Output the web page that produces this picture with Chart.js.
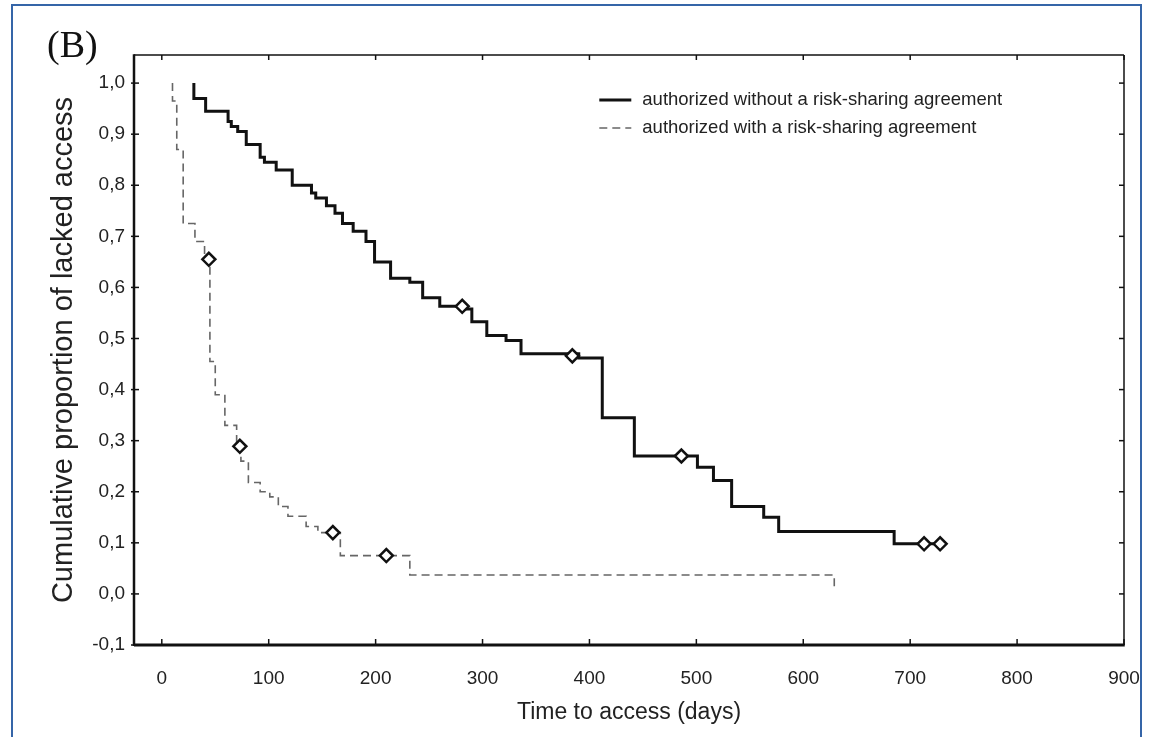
<!DOCTYPE html>
<html>
<head>
<meta charset="utf-8">
<script src="https://cdn.jsdelivr.net/npm/chart.js@4.4.1/dist/chart.umd.min.js"></script>
<style>
    body { margin: 0; background: #fff; }
    #wrap { position: relative; width: 1149px; height: 737px; overflow: hidden; }
    #kmChart { position: absolute; left: 0; top: 0; }
    #border { position: absolute; left: 11px; top: 4px; width: 1131px; height: 780px; border: 2px solid #3565a8; box-sizing: border-box; pointer-events: none; }
</style>
</head>
<body>
<div id="wrap">
    <canvas id="kmChart" width="1149" height="737"></canvas>
    <div id="border"></div>
</div>
<script>
// authorized without a risk-sharing agreement (solid)
const noRsaDays   = [30, 30, 41, 62, 65, 71, 79, 92, 96, 107, 122, 140, 144, 154, 162, 169, 179, 191, 199, 214, 232, 244, 260, 284, 290, 304, 322, 336, 390, 412, 442, 501, 516, 533, 563, 577, 685, 728];
const noRsaLevels = [1.0, 0.97, 0.945, 0.925, 0.915, 0.905, 0.88, 0.855, 0.845, 0.83, 0.80, 0.785, 0.775, 0.76, 0.745, 0.725, 0.71, 0.69, 0.65, 0.618, 0.61, 0.58, 0.563, 0.558, 0.533, 0.506, 0.496, 0.47, 0.462, 0.345, 0.27, 0.248, 0.222, 0.171, 0.15, 0.122, 0.098, 0.098];
const noRsaCensorDays   = [281, 384, 486, 713, 728];
const noRsaCensorLevels = [0.563, 0.466, 0.27, 0.098, 0.098];

// authorized with a risk-sharing agreement (dashed)
const rsaDays   = [10, 10, 14, 20, 31, 40, 45, 50, 59, 70, 74, 81, 92, 101, 109, 118, 135, 146, 167, 232, 629, 629];
const rsaLevels = [1.0, 0.965, 0.87, 0.725, 0.69, 0.655, 0.455, 0.39, 0.33, 0.289, 0.26, 0.218, 0.20, 0.19, 0.171, 0.152, 0.132, 0.12, 0.075, 0.037, 0.037, 0.008];
const rsaCensorDays   = [44, 73, 160, 210];
const rsaCensorLevels = [0.655, 0.289, 0.12, 0.075];

const xTicks = [0, 100, 200, 300, 400, 500, 600, 700, 800, 900];
const yTicks = [-0.1, 0.0, 0.1, 0.2, 0.3, 0.4, 0.5, 0.6, 0.7, 0.8, 0.9, 1.0];

const seriesNames = ["authorized without a risk-sharing agreement", "authorized with a risk-sharing agreement"];

function toPoints(xs, ys) {
    return xs.map((x, i) => ({ x: x, y: ys[i] }));
}

const censorStyle = {
    type: 'scatter',
    showLine: false,
    pointStyle: 'rectRot',
    pointRadius: 6.5,
    pointBackgroundColor: '#fff',
    pointBorderColor: '#111',
    pointBorderWidth: 2.5,
    order: 0
};

// frame with inward ticks on all four sides
const framePlugin = {
    id: 'frame',
    afterDatasetsDraw(chart) {
        const { ctx, chartArea: a, scales: { x, y } } = chart;
        ctx.save();
        ctx.strokeStyle = '#111';
        function seg(x1, y1, x2, y2) { ctx.beginPath(); ctx.moveTo(x1, y1); ctx.lineTo(x2, y2); ctx.stroke(); }
        ctx.lineWidth = 1.5;
        seg(a.left, a.top, a.right, a.top);
        seg(a.right, a.top, a.right, a.bottom);
        ctx.lineWidth = 2.5;
        seg(a.left, a.top - 0.75, a.left, a.bottom + 1);
        ctx.lineWidth = 3;
        seg(a.left, a.bottom, a.right + 0.75, a.bottom);
        ctx.lineWidth = 1.5;
        xTicks.forEach(v => {
            const px = x.getPixelForValue(v);
            seg(px, a.bottom, px, a.bottom - 6);
            seg(px, a.top, px, a.top + 5);
        });
        yTicks.forEach(v => {
            const py = y.getPixelForValue(v);
            seg(a.left - 3, py, a.left + 5, py);
            seg(a.right, py, a.right - 5, py);
        });
        ctx.restore();
    }
};

const legendPlugin = {
    id: 'insideLegend',
    afterDraw(chart) {
        const { ctx, chartArea: a } = chart;
        const lx = a.left + (a.right - a.left) * 0.47;
        const rows = [a.top + 45, a.top + 73];
        ctx.save();
        ctx.font = '18.5px "Liberation Sans", Arial, sans-serif';
        ctx.fillStyle = '#222';
        ctx.textBaseline = 'middle';
        // solid sample
        ctx.strokeStyle = '#111';
        ctx.lineWidth = 3;
        ctx.beginPath(); ctx.moveTo(lx, rows[0]); ctx.lineTo(lx + 32, rows[0]); ctx.stroke();
        // dashed sample
        ctx.strokeStyle = '#666';
        ctx.lineWidth = 1.6;
        ctx.setLineDash([8, 5]);
        ctx.beginPath(); ctx.moveTo(lx, rows[1]); ctx.lineTo(lx + 32, rows[1]); ctx.stroke();
        ctx.setLineDash([]);
        ctx.fillText(seriesNames[0], lx + 43, rows[0]);
        ctx.fillText(seriesNames[1], lx + 43, rows[1]);
        ctx.restore();
    }
};

const panelLabel = {
    id: 'panelLabel',
    afterDraw(chart) {
        const ctx = chart.ctx;
        ctx.save();
        ctx.font = '38px "Liberation Serif", "Times New Roman", serif';
        ctx.fillStyle = '#111';
        ctx.textBaseline = 'alphabetic';
        ctx.fillText('(B)', 47, 57);
        ctx.restore();
    }
};

const kmChart = new Chart(document.getElementById('kmChart'), {
    type: 'line',
    data: {
        datasets: [
            Object.assign({ label: 'censored 1', data: toPoints(noRsaCensorDays, noRsaCensorLevels) }, censorStyle),
            Object.assign({ label: 'censored 2', data: toPoints(rsaCensorDays, rsaCensorLevels) }, censorStyle),
            {
                label: seriesNames[0],
                data: toPoints(noRsaDays, noRsaLevels),
                stepped: 'before',
                borderColor: '#111',
                borderWidth: 3,
                pointRadius: 0,
                fill: false,
                order: 1
            },
            {
                label: seriesNames[1],
                data: toPoints(rsaDays, rsaLevels),
                stepped: 'before',
                borderColor: '#666',
                borderWidth: 1.6,
                borderDash: [8, 5],
                pointRadius: 0,
                fill: false,
                order: 1
            }
        ]
    },
    options: {
        responsive: false,
        animation: false,
        devicePixelRatio: 1,
        layout: { padding: { left: 0, top: 55, right: 25, bottom: 0 } },
        plugins: { legend: { display: false }, tooltip: { enabled: false } },
        scales: {
            x: {
                type: 'linear',
                min: -26,
                max: 900,
                grid: { display: true, drawOnChartArea: false, drawTicks: true, tickLength: 19, tickColor: 'rgba(0,0,0,0)' },
                border: { display: false },
                afterBuildTicks: scale => { scale.ticks = xTicks.map(v => ({ value: v })); },
                afterFit: scale => { scale.height = 92; },
                ticks: {
                    padding: 3,
                    color: '#222',
                    font: { family: '"Liberation Sans", Arial, sans-serif', size: 19 },
                    callback: v => String(v)
                },
                title: {
                    display: true,
                    text: 'Time to access (days)',
                    color: '#222',
                    font: { family: '"Liberation Sans", Arial, sans-serif', size: 23 },
                    padding: { top: 0, bottom: 11 }
                }
            },
            y: {
                type: 'linear',
                min: -0.1,
                max: 1.055,
                grid: { display: false, drawTicks: false },
                border: { display: false },
                afterBuildTicks: scale => { scale.ticks = yTicks.map(v => ({ value: v })); },
                afterFit: scale => { scale.width = 134; },
                ticks: {
                    padding: 9,
                    color: '#222',
                    font: { family: '"Liberation Sans", Arial, sans-serif', size: 19 },
                    callback: v => v.toFixed(1).replace('.', ',')
                },
                title: {
                    display: true,
                    text: 'Cumulative proportion of lacked access',
                    color: '#222',
                    font: { family: '"Liberation Sans", Arial, sans-serif', size: 29 },
                    padding: { top: 47, bottom: 0 }
                }
            }
        }
    },
    plugins: [framePlugin, legendPlugin, panelLabel]
});
</script>
</body>
</html>
